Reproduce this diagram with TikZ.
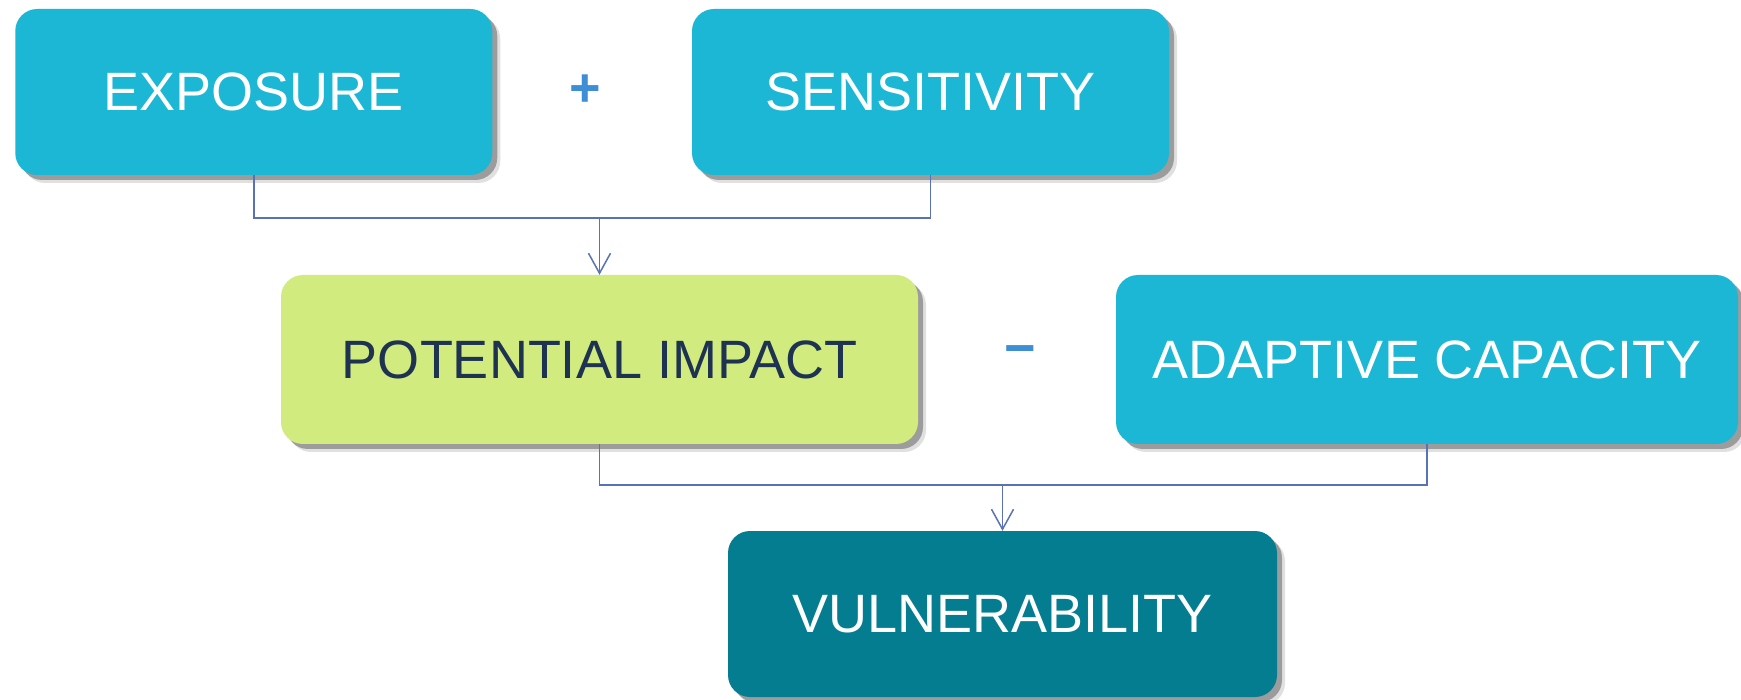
\documentclass[tikz,border=0pt]{standalone}
\usepackage{fontspec}
\setmainfont{Liberation Sans}
\usetikzlibrary{arrows.meta,shadows}
\definecolor{cyanbox}{HTML}{1BB7D4}
\definecolor{greenbox}{HTML}{D1EB7F}
\definecolor{tealbox}{HTML}{057D91}
\definecolor{navytext}{HTML}{1E3252}
\definecolor{connblue}{HTML}{5A72B5}
\definecolor{opblue}{HTML}{3D8ED4}
\tikzset{
  box/.style={rounded corners=22pt, inner sep=0pt, align=center,
    font=\fontsize{54}{60}\selectfont,
    drop shadow={shadow xshift=8pt, shadow yshift=-8pt, opacity=0.12, fill=black},
    drop shadow={shadow xshift=5pt, shadow yshift=-5pt, opacity=0.3, fill=black}},
  cbox/.style={box, fill=cyanbox, text=white},
  gbox/.style={box, fill=greenbox, text=navytext},
  tbox/.style={box, fill=tealbox, text=white},
  conn/.style={draw=connblue, line width=1.5pt},
  arr/.style={conn, -{Straight Barb[length=20pt,width=22pt,line width=1.5pt]}},
  op/.style={text=opblue, font=\fontsize{54}{60}\selectfont\bfseries, inner sep=0pt}
}
\begin{document}
\begin{tikzpicture}[x=1pt,y=-1pt]
\useasboundingbox[fill=white] (0,0) rectangle (1741,700);
\node[cbox, minimum width=477pt, minimum height=166pt] (exp) at (253.75,92) {EXPOSURE};
\node[cbox, minimum width=477pt, minimum height=166pt] (sens) at (930.5,92) {SENSITIVITY};
\node[gbox, minimum width=637pt, minimum height=169pt] (pi) at (599.5,359.5) {POTENTIAL IMPACT};
\node[cbox, minimum width=622pt, minimum height=169pt] (ac) at (1427,359.5) {ADAPTIVE CAPACITY};
\node[tbox, minimum width=549pt, minimum height=166pt] (vul) at (1002.5,614) {VULNERABILITY};
\node[op] (plus) at (585,91) {+};
\node[op] (minus) at (1020,356) {−};
\coordinate (m1) at (0,218);
\coordinate (m2) at (0,485);
\draw[conn] (exp.south) -- (exp.south |- m1) -- (sens.south |- m1) -- (sens.south);
\draw[arr] (pi.north |- m1) -- (pi.north);
\draw[conn] (pi.south) -- (pi.south |- m2) -- (ac.south |- m2) -- (ac.south);
\draw[arr] (vul.north |- m2) -- (vul.north);
\end{tikzpicture}
\end{document}
